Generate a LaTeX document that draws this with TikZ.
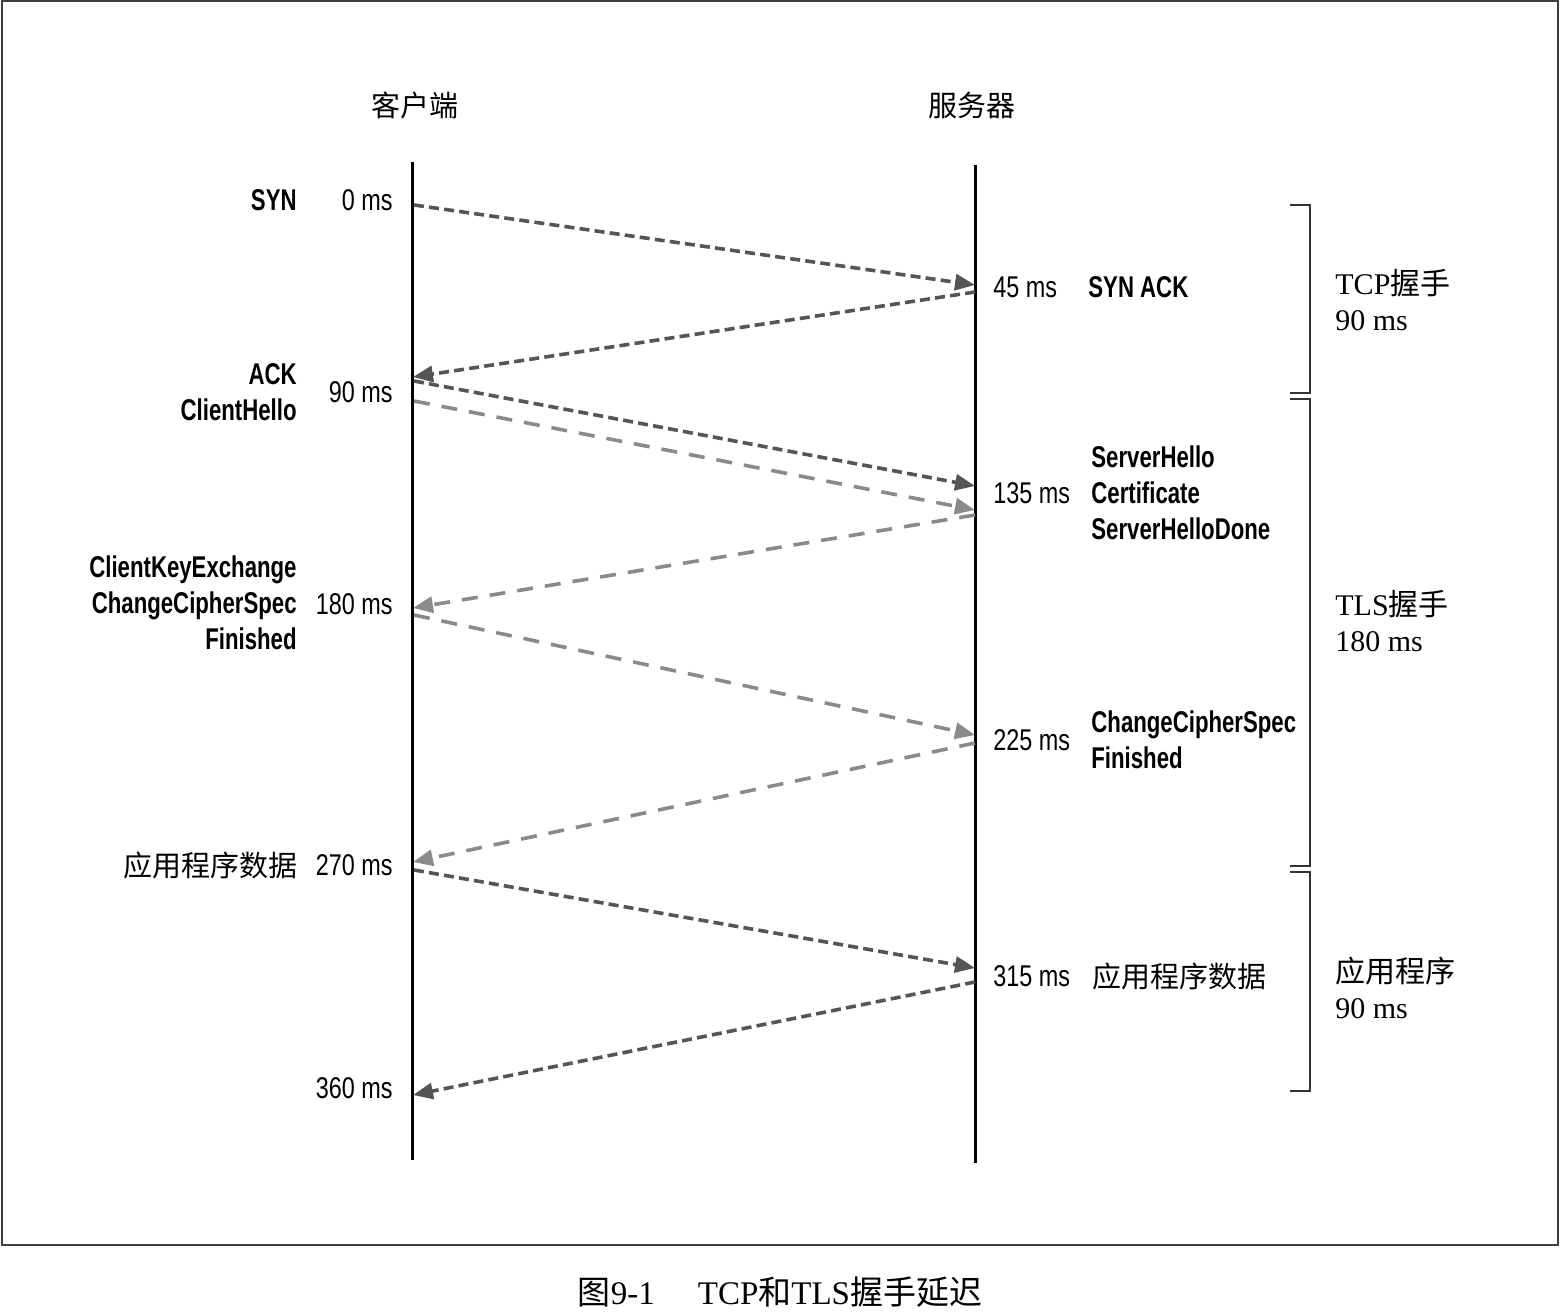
\documentclass[tikz,border=0pt]{standalone}
\usepackage{fontspec}
\usetikzlibrary{arrows.meta}
\newfontfamily\cjk{Noto Sans CJK SC}
\newfontfamily\cond[FakeStretch=0.78,BoldFeatures={FakeStretch=0.74}]{Liberation Sans}
\newfontfamily\serifl{Liberation Serif}
\definecolor{darkln}{HTML}{555555}
\definecolor{lightln}{HTML}{8A8A8A}
\tikzset{
  lifeline/.style={line width=1.5pt,black},
  tcparrow/.style={darkln,line width=1.8pt,dash pattern=on 5pt off 2.6pt,-{Triangle[length=10pt,width=8pt]}},
  tlsarrow/.style={lightln,line width=1.8pt,dash pattern=on 8pt off 6pt,-{Triangle[length=10pt,width=8pt]}},
  timelbl/.style={inner sep=0pt,font=\cond\fontsize{15}{18}\selectfont},
  msglbl/.style={inner sep=0pt,font=\cond\bfseries\fontsize{15}{18}\selectfont},
  cjklbl/.style={inner sep=0pt,font=\cjk\fontsize{14.5}{18}\selectfont},
  phaselbl/.style={inner sep=0pt,anchor=west,align=left,font=\serifl\fontsize{15}{18}\selectfont},
  bracket/.style={line width=1pt,black!80},
}
\begin{document}
\begin{tikzpicture}[x=0.5pt,y=-0.5pt]
\useasboundingbox (0,0) rectangle (1560,1316);
\draw[line width=1pt,black!75] (2,1) rectangle (1558,1245) ;
% headers
\node[cjklbl] (hc) at (415,105) {客户端};
\node[cjklbl] (hs) at (972,105) {服务器};
% lifelines
\coordinate (ctop) at (412,162); \coordinate (cbot) at (412,1160);
\coordinate (stop) at (975,165); \coordinate (sbot) at (975,1163);
\draw[lifeline] (ctop) -- (cbot);
\draw[lifeline] (stop) -- (sbot);
% points on lifelines
\coordinate (a1s) at (414,205);  \coordinate (a1e) at (975,285);
\coordinate (a2s) at (975,292);  \coordinate (a2e) at (413,377);
\coordinate (a3s) at (414,381);  \coordinate (a3e) at (975,486);
\coordinate (a4s) at (414,401);  \coordinate (a4e) at (975,510);
\coordinate (a5s) at (975,515);  \coordinate (a5e) at (413,608);
\coordinate (a6s) at (414,615);  \coordinate (a6e) at (975,735);
\coordinate (a7s) at (975,743);  \coordinate (a7e) at (413,862);
\coordinate (a8s) at (414,870);  \coordinate (a8e) at (975,968);
\coordinate (a9s) at (975,982);  \coordinate (a9e) at (413,1095);
\draw[tcparrow] (a1s) -- (a1e);
\draw[tcparrow] (a2s) -- (a2e);
\draw[tcparrow] (a3s) -- (a3e);
\draw[tlsarrow] (a4s) -- (a4e);
\draw[tlsarrow] (a5s) -- (a5e);
\draw[tlsarrow] (a6s) -- (a6e);
\draw[tlsarrow] (a7s) -- (a7e);
\draw[tcparrow] (a8s) -- (a8e);
\draw[tcparrow] (a9s) -- (a9e);
% left times
\node[timelbl,anchor=east] (t0) at (393,200) {0 ms};
\node[timelbl,anchor=east] (t90) at (393,392) {90 ms};
\node[timelbl,anchor=east] (t180) at (393,604) {180 ms};
\node[timelbl,anchor=east] (t270) at (393,865) {270 ms};
\node[timelbl,anchor=east] (t360) at (393,1088) {360 ms};
% right times
\node[timelbl,anchor=west] (t45) at (993,287) {45 ms};
\node[timelbl,anchor=west] (t135) at (993,493) {135 ms};
\node[timelbl,anchor=west] (t225) at (993,740) {225 ms};
\node[timelbl,anchor=west] (t315) at (993,976) {315 ms};
% left messages
\node[msglbl,anchor=east,align=right] (m1) at (297,200) {SYN};
\node[msglbl,anchor=east,align=right] (m3) at (297,392) {ACK\\ClientHello};
\node[msglbl,anchor=east,align=right] (m5) at (297,603) {ClientKeyExchange\\ChangeCipherSpec\\Finished};
\node[cjklbl,anchor=east] (m7) at (298,865) {应用程序数据};
% right messages
\node[msglbl,anchor=west,align=left] (m2) at (1088,287) {SYN ACK};
\node[msglbl,anchor=west,align=left] (m4) at (1091,493) {ServerHello\\Certificate\\ServerHelloDone};
\node[msglbl,anchor=west,align=left] (m6) at (1091,740) {ChangeCipherSpec\\Finished};
\node[cjklbl,anchor=west] (m8) at (1092,976) {应用程序数据};
% brackets
\draw[bracket] (1290,205) -- (1310,205) -- (1310,393) -- (1290,393);
\draw[bracket] (1290,399) -- (1310,399) -- (1310,866) -- (1290,866);
\draw[bracket] (1290,872) -- (1310,872) -- (1310,1091) -- (1290,1091);
\node[phaselbl] (p1) at (1335,300) {TCP{\cjk 握手}\\90 ms};
\node[phaselbl] (p2) at (1335,621) {TLS{\cjk 握手}\\180 ms};
\node[phaselbl] (p3) at (1335,988) {{\cjk 应用程序}\\90 ms};
% caption
\node[inner sep=0pt,font=\fontsize{16.5}{18}\selectfont] (cap) at (780,1292) {{\cjk 图}\serifl 9-1\hspace{1.3em}TCP{\cjk 和}TLS{\cjk 握手延迟}};
\end{tikzpicture}
\end{document}
